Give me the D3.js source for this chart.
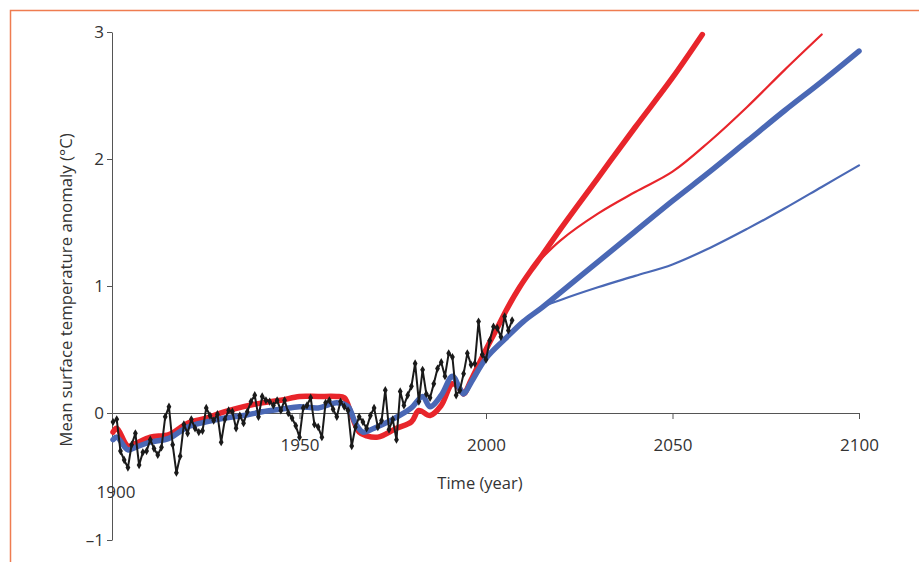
<!DOCTYPE html>
<html>
<head>
<meta charset="utf-8">
<script src="https://cdn.jsdelivr.net/npm/d3@7"></script>
<style>
  body { margin: 0; background: #fff; }
  svg { display: block; font-family: "Open Sans", "Noto Sans", sans-serif; }
</style>
</head>
<body>
<svg width="919" height="562"></svg>
<script>
// observed annual anomaly, 1900-2007
const obsStart = 1900;
const observed = [
  -0.07, -0.05, -0.30, -0.37, -0.43, -0.25, -0.16, -0.41, -0.31, -0.30,
  -0.21, -0.28, -0.33, -0.27, -0.03, 0.05, -0.25, -0.47, -0.34, -0.09,
  -0.16, -0.05, -0.12, -0.15, -0.14, 0.04, -0.02, -0.06, -0.01, -0.23,
  -0.05, 0.02, 0.01, -0.12, -0.02, -0.08, 0.01, 0.09, 0.14, -0.03,
  0.13, 0.10, 0.09, 0.06, 0.10, 0.02, 0.10, 0.00, -0.04, -0.10,
  -0.19, 0.04, 0.06, 0.12, -0.09, -0.11, -0.19, 0.08, 0.10, 0.03,
  -0.03, 0.09, 0.05, 0.02, -0.26, -0.11, -0.03, -0.07, -0.12, -0.02,
  0.04, -0.11, -0.06, 0.18, -0.13, -0.05, -0.21, 0.17, 0.06, 0.14,
  0.21, 0.39, 0.09, 0.34, 0.15, 0.12, 0.23, 0.35, 0.40, 0.29,
  0.47, 0.44, 0.14, 0.18, 0.31, 0.47, 0.38, 0.39, 0.72, 0.46,
  0.42, 0.57, 0.68, 0.67, 0.60, 0.76, 0.65, 0.73
];

// model runs (thick = high sensitivity path, thin = alternative)
const redYears = [1900, 1901, 1904, 1906, 1910, 1915, 1920, 1925, 1930, 1935, 1940, 1945, 1950, 1955, 1960, 1962, 1964, 1966, 1968, 1971, 1976, 1980, 1982, 1985, 1988, 1991, 1993, 1994, 1996, 2000, 2003, 2006, 2009, 2012, 2015, 2020, 2030, 2040, 2050, 2058];
const redThick = [-0.15, -0.12, -0.26, -0.24, -0.19, -0.17, -0.08, -0.04, 0.01, 0.05, 0.08, 0.10, 0.13, 0.13, 0.13, 0.12, -0.02, -0.15, -0.18, -0.19, -0.12, -0.07, 0.02, -0.02, 0.06, 0.23, 0.19, 0.15, 0.26, 0.50, 0.67, 0.84, 0.99, 1.12, 1.24, 1.45, 1.85, 2.25, 2.64, 2.98];
const redThinYears = [2012, 2015, 2020, 2030, 2040, 2050, 2060, 2070, 2080, 2090];
const redThin = [1.12, 1.22, 1.36, 1.57, 1.74, 1.90, 2.14, 2.41, 2.70, 2.98];

const blueYears = [1900, 1901, 1904, 1906, 1910, 1915, 1920, 1925, 1930, 1935, 1940, 1945, 1950, 1955, 1960, 1963, 1965, 1967, 1970, 1975, 1980, 1983, 1985, 1988, 1991, 1993, 1994, 1996, 2000, 2005, 2010, 2015, 2020, 2030, 2040, 2050, 2060, 2070, 2080, 2090, 2100];
const blueThick = [-0.21, -0.19, -0.29, -0.27, -0.23, -0.20, -0.11, -0.07, -0.04, -0.02, 0.01, 0.03, 0.05, 0.04, 0.08, 0.05, -0.08, -0.15, -0.12, -0.05, 0.04, 0.13, 0.05, 0.14, 0.29, 0.19, 0.15, 0.24, 0.43, 0.58, 0.72, 0.83, 0.95, 1.19, 1.43, 1.67, 1.90, 2.14, 2.38, 2.61, 2.85];
const blueThinYears = [2010, 2015, 2020, 2030, 2040, 2050, 2060, 2070, 2080, 2090, 2100];
const blueThin = [0.72, 0.83, 0.89, 0.99, 1.08, 1.17, 1.30, 1.45, 1.61, 1.78, 1.95];

const xTicks = [1950, 2000, 2050, 2100];
const yTicks = [3, 2, 1, 0, -1];

const RED = "#e8252b", BLUE = "#4a68b5";

const svg = d3.select("svg");

// orange frame (top and left edges)
svg.append("path")
  .attr("d", "M10.5,562V10.5H919")
  .attr("fill", "none")
  .attr("stroke", "#ef7c50")
  .attr("stroke-width", 1.5);

const x = d3.scaleLinear().domain([1900, 2100]).range([113, 859]);
const y = d3.scaleLinear().domain([-1, 3]).range([540, 32]);

// axes
const gx = svg.append("g").attr("transform", `translate(0,${y(0)})`)
  .call(d3.axisBottom(x).tickValues(xTicks).tickSize(6).tickSizeOuter(0).tickFormat(d3.format("d")));
gx.select(".domain").attr("d", `M${x(1900) - 1},0.5H${x(2100)}`);
const gy = svg.append("g").attr("transform", `translate(${x(1900) - 1},0)`)
  .call(d3.axisLeft(y).tickValues(yTicks).tickSize(5).tickSizeOuter(0).tickFormat(d => d < 0 ? "\u2013" + (-d) : d));

[gx, gy].forEach(g => {
  g.selectAll(".domain, line").attr("stroke", "#555");
  g.selectAll("text").attr("fill", "#333").attr("font-size", 17).attr("font-family", "Open Sans, sans-serif");
});
gx.selectAll("text").attr("y", 26);
gy.selectAll("text").attr("x", -8);

// the 1900 label sits below the axis
svg.append("text").attr("x", 116).attr("y", 498)
  .attr("text-anchor", "middle").attr("font-size", 17).attr("fill", "#333").text("1900");

svg.append("text").attr("x", 480).attr("y", 489)
  .attr("text-anchor", "middle").attr("font-size", 16.5).attr("fill", "#333").text("Time (year)");

svg.append("text")
  .attr("transform", `translate(72,290) rotate(-90)`)
  .attr("text-anchor", "middle").attr("font-size", 16.8).attr("fill", "#333")
  .text("Mean surface temperature anomaly (°C)");

const line = d3.line().x(d => x(d[0])).y(d => y(d[1])).curve(d3.curveCatmullRom.alpha(0.5));
const pairs = (ys, vs) => ys.map((yr, i) => [yr, vs[i]]);

function draw(data, color, width) {
  svg.append("path").datum(data)
    .attr("d", line)
    .attr("fill", "none")
    .attr("stroke", color)
    .attr("stroke-width", width)
    .attr("stroke-linecap", "round")
    .attr("stroke-linejoin", "round");
}

draw(pairs(redThinYears, redThin), RED, 2.2);
draw(pairs(blueThinYears, blueThin), BLUE, 2.2);
draw(pairs(redYears, redThick), RED, 5.5);
draw(pairs(blueYears, blueThick), BLUE, 5.5);

// observations
const obs = observed.map((v, i) => [obsStart + i, v]);
svg.append("path").datum(obs)
  .attr("d", d3.line().x(d => x(d[0])).y(d => y(d[1])))
  .attr("fill", "none").attr("stroke", "#1a1a1a").attr("stroke-width", 2)
  .attr("stroke-linejoin", "round");
svg.append("g").selectAll("path").data(obs).join("path")
  .attr("transform", d => `translate(${x(d[0])},${y(d[1])})`)
  .attr("d", d3.symbol(d3.symbolDiamond, 20))
  .attr("fill", "#1a1a1a");
</script>
</body>
</html>
